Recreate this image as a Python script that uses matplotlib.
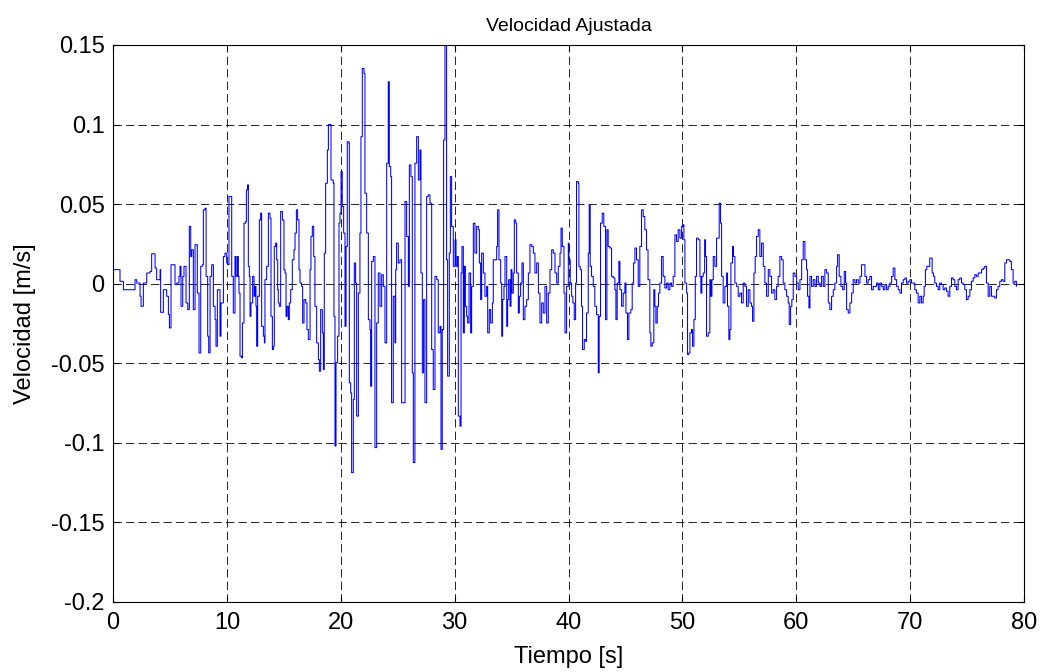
import numpy as np
import matplotlib
matplotlib.use("Agg")
import matplotlib.pyplot as plt

# Velocity record, split into 10 s blocks (time in s, velocity in m/s)
t_00 = [0.00, 0.61, 0.91, 1.49, 1.93, 2.08, 2.37, 2.46, 2.66, 2.96, 3.25, 3.39, 3.54, 3.69, 3.83,
        4.13, 4.18, 4.42, 4.71, 4.86, 4.95, 5.09, 5.30, 5.44, 5.59, 5.79, 5.88, 5.97, 6.12, 6.23,
        6.41, 6.56, 6.70, 6.82, 6.91, 7.05, 7.20, 7.35, 7.40, 7.55, 7.70, 7.84, 7.93, 8.08, 8.17,
        8.31, 8.40, 8.52, 8.66, 8.81, 8.96, 9.04, 9.16, 9.31, 9.39, 9.48, 9.69, 9.83, 9.98]
v_00 = [0.0088, 0.0015, -0.0038, -0.0038, 0.0025, 0.0004, -0.0079, -0.0142, 0.0004, 0.0067, 0.0077,
        0.0188, 0.0188, 0.0098, 0.0025, 0.0088, -0.0180, -0.0038, -0.0079, -0.0194, -0.0278, 0.0119,
        0.0119, -0.0006, 0.0004, 0.0046, 0.0109, -0.0142, 0.0046, 0.0109, -0.0121, -0.0163, 0.0360,
        0.0171, 0.0213, -0.0163, 0.0245, 0.0245, -0.0059, -0.0435, 0.0109, 0.0119, 0.0464, 0.0474,
        0.0046, -0.0330, -0.0435, 0.0046, 0.0119, -0.0142, -0.0226, -0.0393, -0.0038, -0.0038,
        -0.0330, -0.0121, 0.0171, 0.0192, 0.0130]

t_10 = [10.06, 10.18, 10.33, 10.42, 10.56, 10.71, 10.80, 10.92, 11.00, 11.06, 11.15, 11.30, 11.36,
        11.50, 11.65, 11.71, 11.82, 11.88, 11.97, 12.03, 12.11, 12.26, 12.38, 12.47, 12.55, 12.61,
        12.70, 12.85, 12.96, 13.05, 13.20, 13.29, 13.34, 13.49, 13.64, 13.78, 13.87, 13.99, 14.08,
        14.16, 14.28, 14.37, 14.46, 14.51, 14.60, 14.72, 14.87, 15.01, 15.10, 15.19, 15.28, 15.39,
        15.48, 15.60, 15.74, 15.89, 15.98, 16.10, 16.21, 16.33, 16.42, 16.56, 16.65, 16.77, 16.92,
        17.03, 17.15, 17.30, 17.38, 17.50, 17.62, 17.73, 17.88, 18.03, 18.12, 18.23, 18.38, 18.47,
        18.55, 18.67, 18.82, 18.91, 18.99, 19.14, 19.34, 19.40]
v_10 = [0.0119, 0.0548, 0.0548, 0.0046, -0.0184, 0.0171, 0.0046, 0.0171, 0.0046, -0.0059, -0.0456,
        -0.0466, -0.0247, 0.0380, 0.0391, 0.0589, 0.0621, 0.0109, 0.0046, -0.0205, -0.0121, 0.0046,
        -0.0079, -0.0017, -0.0142, -0.0393, -0.0079, 0.0401, 0.0443, -0.0268, -0.0330, -0.0372,
        0.0025, 0.0109, 0.0443, 0.0412, -0.0205, -0.0414, -0.0393, 0.0234, 0.0255, 0.0150, -0.0038,
        -0.0121, -0.0142, 0.0454, 0.0401, 0.0088, 0.0067, -0.0205, -0.0142, -0.0226, -0.0121,
        -0.0038, 0.0150, 0.0213, 0.0318, 0.0464, 0.0401, 0.0088, 0.0004, -0.0017, -0.0247, -0.0100,
        -0.0121, -0.0288, -0.0351, 0.0088, 0.0297, 0.0360, 0.0171, -0.0142, -0.0372, -0.0477,
        -0.0550, -0.0163, -0.0309, -0.0539, 0.0192, 0.0631, 0.0840, 0.1000, 0.1000, 0.0652, 0.0631,
        -0.0205]

t_20 = [19.49, 19.58, 19.72, 19.84, 19.93, 20.02, 20.13, 20.25, 20.37, 20.46, 20.57, 20.72, 20.75,
        20.87, 20.95, 21.10, 21.19, 21.30, 21.39, 21.54, 21.68, 21.77, 21.89, 22.04, 22.12, 22.27,
        22.42, 22.56, 22.62, 22.71, 22.86, 23.00, 23.15, 23.29, 23.44, 23.59, 23.73, 23.88, 24.03,
        24.17, 24.26, 24.38, 24.46, 24.61, 24.76, 24.82, 24.90, 25.05, 25.20, 25.34, 25.52, 25.64,
        25.78, 25.93, 26.02, 26.16, 26.28, 26.37, 26.51, 26.66, 26.81, 26.95, 27.04, 27.16, 27.27,
        27.39, 27.54, 27.68, 27.83, 27.98, 28.12, 28.27, 28.42, 28.56, 28.71, 28.80, 28.91, 29.03,
        29.15, 29.24, 29.29, 29.38, 29.53, 29.62, 29.73, 29.88]
v_20 = [-0.1020, -0.0497, -0.0330, 0.0380, 0.0443, 0.0704, 0.0485, 0.0318, -0.0268, 0.0234, 0.0892,
        0.0882, -0.0623, -0.0686, -0.1187, -0.0727, 0.0130, 0.0004, -0.0832, -0.0059, 0.0318, 0.0924,
        0.1352, 0.1321, 0.0568, 0.0318, -0.0226, -0.0288, -0.0644, 0.0140, 0.0171, -0.1030, -0.0247,
        0.0067, -0.0142, 0.0056, -0.0017, -0.0372, 0.0757, 0.1269, 0.0736, 0.0673, -0.0748, -0.0079,
        -0.0372, 0.0088, 0.0255, 0.0130, 0.0150, -0.0748, -0.0748, 0.0516, 0.0297, -0.0017, 0.0746,
        0.0673, -0.0560, -0.1124, 0.0757, 0.0924, 0.0652, 0.0840, 0.0067, -0.0560, -0.0100, -0.0748,
        0.0548, 0.0558, 0.0506, -0.0414, -0.0665, 0.0046, 0.0025, -0.0309, -0.0268, -0.1041, -0.0288,
        0.0903, 0.1499, 0.1499, 0.0150, -0.0581, 0.0192, 0.0673, 0.0360, 0.0109]

t_30 = [29.94, 30.03, 30.12, 30.23, 30.32, 30.47, 30.56, 30.64, 30.76, 30.85, 30.94, 31.05, 31.14,
        31.26, 31.40, 31.49, 31.64, 31.78, 31.93, 32.08, 32.17, 32.28, 32.37, 32.52, 32.66, 32.81,
        32.90, 33.04, 33.16, 33.31, 33.39, 33.54, 33.69, 33.77, 33.89, 34.04, 34.13, 34.21, 34.33,
        34.42, 34.57, 34.65, 34.74, 34.86, 34.95, 35.03, 35.15, 35.24, 35.36, 35.44, 35.59, 35.68,
        35.79, 35.91, 36.03, 36.17, 36.32, 36.47, 36.61, 36.76, 36.91, 37.05, 37.20, 37.35, 37.49,
        37.64, 37.78, 37.93, 38.08, 38.22, 38.37, 38.52, 38.66, 38.81, 38.96, 39.10, 39.25, 39.34,
        39.45, 39.60, 39.69, 39.83, 39.98]
v_30 = [0.0109, 0.0276, 0.0109, 0.0171, -0.0832, -0.0895, 0.0067, 0.0234, -0.0309, 0.0109, -0.0142,
        -0.0205, -0.0247, 0.0067, -0.0309, -0.0017, 0.0380, 0.0192, 0.0360, 0.0339, 0.0130, -0.0100,
        0.0192, 0.0067, -0.0079, -0.0017, -0.0309, -0.0163, -0.0247, -0.0121, 0.0150, 0.0150, 0.0234,
        0.0464, 0.0150, 0.0004, -0.0330, -0.0100, -0.0017, 0.0171, -0.0268, -0.0100, 0.0025, -0.0142,
        0.0088, -0.0059, 0.0067, 0.0401, 0.0380, 0.0067, -0.0184, -0.0079, 0.0004, 0.0130, -0.0226,
        -0.0142, -0.0100, 0.0067, 0.0245, 0.0234, 0.0192, 0.0067, 0.0130, -0.0059, -0.0247, -0.0121,
        -0.0184, -0.0017, -0.0247, -0.0059, 0.0088, 0.0213, 0.0192, 0.0067, 0.0004, 0.0109, 0.0192,
        0.0349, 0.0234, -0.0059, -0.0309, -0.0017, 0.0255]

t_40 = [40.03, 40.15, 40.27, 40.38, 40.50, 40.62, 40.70, 40.85, 40.91, 41.03, 41.14, 41.23, 41.38,
        41.49, 41.58, 41.73, 41.82, 41.90, 42.02, 42.17, 42.31, 42.46, 42.61, 42.69, 42.81, 42.96,
        43.10, 43.25, 43.37, 43.48, 43.63, 43.78, 43.92, 44.07, 44.16, 44.27, 44.42, 44.51, 44.66,
        44.80, 44.95, 45.04, 45.18, 45.30, 45.47, 45.59, 45.71, 45.83, 45.97, 46.12, 46.26, 46.41,
        46.56, 46.70, 46.85, 46.98, 47.14, 47.23, 47.35, 47.49, 47.58, 47.67, 47.79, 47.90, 48.02,
        48.17, 48.31, 48.46, 48.61, 48.75, 48.90, 49.05, 49.19, 49.34, 49.48, 49.63, 49.78]
v_40 = [0.0150, 0.0004, -0.0079, -0.0121, -0.0226, 0.0004, 0.0642, 0.0631, 0.0109, 0.0088, -0.0142,
        -0.0414, -0.0351, -0.0362, -0.0184, 0.0192, 0.0495, 0.0109, 0.0046, -0.0017, -0.0142, -0.0194,
        -0.0560, -0.0205, 0.0380, 0.0443, 0.0360, -0.0226, 0.0339, 0.0234, 0.0224, 0.0046, 0.0036,
        -0.0038, -0.0226, 0.0004, 0.0140, -0.0038, -0.0142, -0.0059, 0.0004, -0.0184, -0.0351, -0.0184,
        -0.0163, 0.0004, 0.0130, 0.0224, 0.0150, -0.0017, 0.0234, 0.0464, 0.0422, 0.0339, 0.0213,
        0.0025, -0.0309, -0.0393, -0.0372, -0.0038, -0.0142, -0.0247, -0.0142, -0.0059, 0.0004,
        0.0171, 0.0046, -0.0027, 0.0004, -0.0038, 0.0004, -0.0017, 0.0046, 0.0307, 0.0265, 0.0339,
        0.0286]

t_50 = [49.93, 50.07, 50.13, 50.22, 50.37, 50.45, 50.57, 50.66, 50.80, 50.89, 51.01, 51.13, 51.24,
        51.39, 51.54, 51.62, 51.71, 51.83, 51.95, 52.03, 52.12, 52.27, 52.41, 52.50, 52.59, 52.71,
        52.85, 53.00, 53.15, 53.23, 53.35, 53.44, 53.58, 53.73, 53.88, 53.96, 54.08, 54.17, 54.26,
        54.40, 54.49, 54.61, 54.76, 54.90, 55.05, 55.19, 55.34, 55.49, 55.63, 55.78, 55.93, 56.07,
        56.16, 56.28, 56.39, 56.51, 56.66, 56.80, 56.95, 57.10, 57.24, 57.39, 57.54, 57.68, 57.83,
        57.97, 58.12, 58.27, 58.41, 58.56, 58.71, 58.85, 59.00, 59.15, 59.29, 59.38, 59.50, 59.61,
        59.73, 59.88]
v_50 = [0.0360, 0.0370, 0.0276, 0.0004, -0.0059, -0.0445, -0.0435, -0.0309, -0.0288, -0.0393,
        -0.0226, 0.0046, 0.0286, 0.0276, 0.0046, -0.0059, 0.0046, 0.0067, 0.0276, 0.0171, -0.0330,
        -0.0309, 0.0025, -0.0079, 0.0025, 0.0171, 0.0109, 0.0286, 0.0286, 0.0506, 0.0380, 0.0046,
        -0.0121, -0.0017, 0.0067, -0.0142, -0.0351, -0.0288, 0.0130, 0.0234, 0.0171, 0.0004, -0.0017,
        -0.0079, -0.0059, -0.0121, 0.0004, -0.0017, -0.0142, -0.0038, -0.0121, -0.0142, -0.0236,
        0.0067, 0.0171, 0.0297, 0.0339, 0.0171, 0.0255, 0.0109, 0.0004, -0.0079, 0.0088, 0.0046,
        -0.0059, -0.0038, -0.0100, -0.0017, 0.0046, 0.0171, 0.0150, 0.0004, -0.0038, -0.0079,
        -0.0121, -0.0257, -0.0142, -0.0100, 0.0067, 0.0046]

t_60 = [60.03, 60.17, 60.32, 60.47, 60.61, 60.76, 60.90, 60.99, 61.11, 61.20, 61.34, 61.49, 61.64,
        61.78, 61.93, 62.07, 62.22, 62.37, 62.51, 62.66, 62.81, 62.95, 63.10, 63.25, 63.39, 63.54,
        63.63, 63.77, 63.92, 64.07, 64.21, 64.33, 64.42, 64.56, 64.71, 64.86, 65.00, 65.15, 65.29,
        65.44, 65.59, 65.73, 65.88, 66.03, 66.17, 66.32, 66.46, 66.61, 66.76, 66.90, 67.05, 67.20,
        67.34, 67.49, 67.64, 67.78, 67.93, 68.07, 68.22, 68.37, 68.51, 68.66, 68.81, 68.95, 69.10,
        69.24, 69.39, 69.54, 69.68, 69.83, 69.98, 70.12]
v_60 = [0.0004, -0.0038, 0.0025, 0.0150, 0.0265, 0.0150, 0.0088, -0.0079, -0.0153, 0.0046, -0.0017,
        0.0025, -0.0017, 0.0046, 0.0004, -0.0017, 0.0046, -0.0017, 0.0088, 0.0067, -0.0121, -0.0163,
        -0.0079, -0.0038, 0.0004, 0.0109, 0.0182, 0.0046, -0.0017, -0.0038, 0.0077, 0.0004, -0.0163,
        -0.0184, -0.0121, -0.0059, 0.0025, 0.0004, 0.0025, 0.0004, 0.0046, 0.0119, 0.0119, 0.0046,
        0.0004, 0.0025, 0.0046, -0.0038, -0.0017, -0.0017, 0.0004, -0.0038, 0.0004, -0.0017, -0.0038,
        -0.0006, -0.0038, -0.0017, 0.0004, 0.0046, 0.0098, 0.0025, -0.0017, -0.0038, -0.0059, 0.0004,
        0.0025, 0.0036, 0.0004, 0.0015, 0.0025, 0.0004]

t_70 = [70.26, 70.41, 70.55, 70.70, 70.85, 70.99, 71.14, 71.23, 71.34, 71.46, 71.58, 71.72, 71.87,
        71.93, 72.05, 72.16, 72.31, 72.46, 72.60, 72.75, 72.90, 73.04, 73.19, 73.33, 73.48, 73.63,
        73.77, 73.92, 74.07, 74.21, 74.36, 74.51, 74.65, 74.80, 74.94, 75.09, 75.24, 75.38, 75.53,
        75.68, 75.82, 75.97, 76.11, 76.26, 76.41, 76.55, 76.70, 76.85, 76.99, 77.14, 77.29, 77.43,
        77.58, 77.72, 77.87, 78.02, 78.16, 78.31, 78.46, 78.60, 78.75, 78.89, 79.04, 79.19, 79.33]
v_70 = [0.0004, -0.0038, -0.0059, -0.0121, -0.0079, -0.0121, -0.0079, -0.0017, 0.0088, 0.0109,
        0.0109, 0.0161, 0.0161, 0.0067, 0.0046, 0.0004, -0.0017, -0.0038, 0.0004, -0.0006, -0.0038,
        -0.0027, -0.0048, -0.0079, -0.0017, 0.0036, 0.0025, -0.0017, -0.0038, 0.0025, 0.0036, 0.0004,
        -0.0006, -0.0038, -0.0100, -0.0079, -0.0038, 0.0015, 0.0036, 0.0056, 0.0046, 0.0067, 0.0067,
        0.0088, 0.0098, 0.0109, 0.0004, -0.0079, -0.0017, -0.0079, -0.0079, -0.0090, -0.0038,
        -0.0017, 0.0015, 0.0025, 0.0015, 0.0130, 0.0150, 0.0150, 0.0140, 0.0088, 0.0004, 0.0015,
        -0.0017]

x_ticks = [0, 10, 20, 30, 40, 50, 60, 70, 80]
y_ticks = [-0.2, -0.15, -0.1, -0.05, 0, 0.05, 0.1, 0.15]
y_tick_labels = ["-0.2", "-0.15", "-0.1", "-0.05", "0", "0.05", "0.1", "0.15"]

tiempo = np.concatenate([t_00, t_10, t_20, t_30, t_40, t_50, t_60, t_70])
velocidad = np.concatenate([v_00, v_10, v_20, v_30, v_40, v_50, v_60, v_70])

plt.rcParams["font.family"] = ["Liberation Sans", "DejaVu Sans"]
plt.rcParams["lines.scale_dashes"] = False

fig = plt.figure(figsize=(10.41, 6.72), dpi=100)
ax = fig.add_axes([0.1086, 0.1042, 0.8751, 0.8289])

ax.plot(tiempo, velocidad, color="#0000ff", linewidth=0.75, drawstyle="steps-post")

ax.set_xlim(0, 80)
ax.set_ylim(-0.2, 0.15)
ax.set_xticks(x_ticks)
ax.set_xticklabels([str(v) for v in x_ticks])
ax.set_yticks(y_ticks)
ax.set_yticklabels(y_tick_labels)

ax.grid(True, color="black", linestyle=(0, (6, 3)), linewidth=0.6)
ax.tick_params(direction="in", length=4, width=0.8, top=True, right=True,
               labelsize=17)
ax.tick_params(axis="x", pad=7)
ax.tick_params(axis="y", pad=6)
for spine in ax.spines.values():
    spine.set_linewidth(0.8)

ax.set_title("Velocidad Ajustada", fontsize=14, pad=10)
ax.set_xlabel("Tiempo [s]", fontsize=17, labelpad=9)
ax.set_ylabel("Velocidad [m/s]", fontsize=17, labelpad=11)

fig.savefig("out.png", dpi=100)
